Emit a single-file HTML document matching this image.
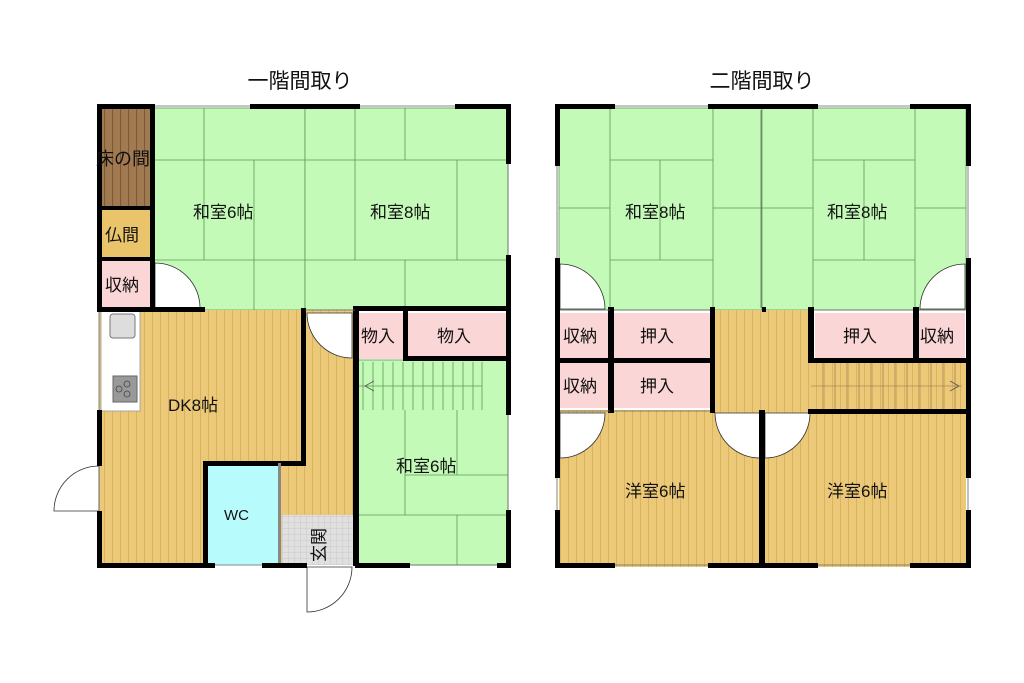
<!DOCTYPE html>
<html><head><meta charset="utf-8"><style>
html,body{margin:0;padding:0;background:#fff;}
svg{display:block;}
text{font-family:"Liberation Sans","Noto Sans CJK JP",sans-serif;fill:#111;}
</style></head><body>
<svg width="1024" height="683" viewBox="0 0 1024 683" xmlns="http://www.w3.org/2000/svg">
<defs>
<pattern id="wood" width="8" height="10" patternUnits="userSpaceOnUse"><rect width="8" height="10" fill="#ecc978"/><line x1="0.5" y1="0" x2="0.5" y2="10" stroke="#d9b35e" stroke-width="1"/></pattern>
<pattern id="brown" width="8" height="10" patternUnits="userSpaceOnUse"><rect width="8" height="10" fill="#a27a52"/><line x1="0.5" y1="0" x2="0.5" y2="10" stroke="#7d5a36" stroke-width="1.2"/></pattern>
<pattern id="tile" width="6" height="6" patternUnits="userSpaceOnUse"><rect width="6" height="6" fill="#e0e0e0"/><path d="M0 0H6M0 0V6" stroke="#c8c8c8" stroke-width="1"/></pattern>
</defs>
<text x="300" y="88" font-size="21" text-anchor="middle">一階間取り</text>
<text x="762" y="88" font-size="21" text-anchor="middle">二階間取り</text>

<!-- ===== Floor 1 ===== -->
<g stroke="#5a9a50" stroke-width="0.8">
<rect x="152" y="108" width="153" height="202" fill="#c4fab8"/>
<rect x="305" y="108" width="203" height="202" fill="#c4fab8"/>
<rect x="355" y="360" width="153" height="205" fill="#c4fab8"/>
</g>
<g stroke="#5a9a50" stroke-width="0.8" fill="none">
<path d="M204 108V160M152 160H305M204 160V260M254 160V260M152 260H305M254 260V310"/>
<path d="M355 108V160M305 160H508M355 160V260M457 160V260M305 260H508M405 260V310M405 108V160"/>
<path d="M405 410V515M405 475H508M355 515H508M457 515V565M457 410V475"/>
</g>
<!-- stairs f1 -->
<rect x="358" y="362" width="128" height="48" fill="#c4fab8"/>
<g stroke="#5a9a50" stroke-width="0.8"><path d="M358 386H482M363 362V410M373 362V410M383 362V410M393 362V410M403 362V410M413 362V410M423 362V410M433 362V410M443 362V410M453 362V410M463 362V410M473 362V410M482 362V410"/></g>
<path d="M374 381L365 386L374 391" stroke="#555" fill="none" stroke-width="0.8"/>
<rect x="99" y="108" width="53" height="100" fill="url(#brown)"/>
<rect x="99" y="210" width="53" height="48" fill="#eac46a"/>
<rect x="99" y="260" width="53" height="48" fill="#fbd6d6"/>
<rect x="99" y="310" width="206" height="255" fill="url(#wood)"/>
<rect x="303" y="310" width="52" height="205" fill="url(#wood)"/>
<rect x="282" y="515" width="73" height="50" fill="url(#tile)"/>
<rect x="205" y="463" width="75" height="102" fill="#b8fbfc"/>
<rect x="358" y="313" width="47" height="46" fill="#fbd6d6"/>
<rect x="408" y="313" width="98" height="45" fill="#fbd6d6"/>
<!-- kitchen -->
<rect x="101" y="311" width="39" height="100" fill="#fff" stroke="#999" stroke-width="0.8"/>
<rect x="110" y="314" width="25" height="24" rx="3" fill="#ddd" stroke="#777"/>
<rect x="113" y="376" width="24" height="26" fill="#999" stroke="#666"/>
<g fill="none" stroke="#444" stroke-width="0.8"><circle cx="119" cy="389" r="3"/><circle cx="127" cy="384" r="3"/><circle cx="127" cy="394" r="3"/></g>
<!-- door arcs -->
<g fill="#fff" stroke="#333" stroke-width="0.8">
<path d="M155 263 A45 45 0 0 1 200 308 H155 Z"/>
<path d="M307 313 A45 45 0 0 0 352 358 V313 Z"/>
<path d="M307 567 V612 A45 45 0 0 0 352 567 Z"/>
<path d="M99 466 A45 45 0 0 0 54 511 H99 Z" fill="#fff"/>
</g>
<!-- walls f1 -->
<g fill="#000">
<rect x="97" y="104" width="58" height="5"/><rect x="250" y="104" width="110" height="5"/><rect x="455" y="104" width="55" height="5"/>
<rect x="97" y="104" width="5" height="208"/><rect x="97" y="410" width="5" height="56"/><rect x="97" y="511" width="5" height="57"/>
<rect x="506" y="104" width="5" height="60"/><rect x="506" y="255" width="5" height="160"/><rect x="506" y="510" width="5" height="58"/>
<rect x="97" y="563" width="118" height="5"/><rect x="262" y="563" width="45" height="5"/><rect x="355" y="563" width="55" height="5"/><rect x="497" y="563" width="14" height="5"/>
<rect x="150" y="104" width="5" height="206"/>
<rect x="97" y="206" width="56" height="4"/><rect x="97" y="257" width="56" height="4"/>
<rect x="97" y="307" width="108" height="5"/>
<rect x="301" y="308" width="5" height="158"/>
<rect x="203" y="461" width="103" height="5"/>
<rect x="203" y="461" width="5" height="105"/>
<rect x="278" y="463" width="3" height="100" fill="#888"/>
<rect x="353" y="308" width="6" height="258"/>
<rect x="353" y="306" width="155" height="5"/>
<rect x="403" y="308" width="5" height="50"/>
<rect x="403" y="356" width="105" height="5"/>
</g>
<g fill="none" stroke="#666" stroke-width="0.8">
<path d="M155 106H250M360 106H455M508 164V255M508 415V510M99 312V410M99 466V511M215 565H262M410 565H497M305 310H355"/>
</g>
<g font-size="17">
<text x="96" y="165" font-size="18">床の間</text>
<text x="105" y="241">仏間</text>
<text x="105" y="291">収納</text>
<text x="193" y="218">和室6帖</text>
<text x="370" y="218">和室8帖</text>
<text x="168" y="411">DK8帖</text>
<text x="224" y="520" font-size="15">WC</text>
<text x="361" y="342">物入</text>
<text x="437" y="342">物入</text>
<text x="396" y="472">和室6帖</text>
<text x="325" y="545" font-size="17" transform="rotate(-90 325 545)" text-anchor="middle">玄関</text>
</g>

<!-- ===== Floor 2 ===== -->
<g stroke="#5a9a50" stroke-width="0.8">
<rect x="559" y="108" width="203" height="202" fill="#c4fab8"/>
<rect x="762" y="108" width="204" height="202" fill="#c4fab8"/>
</g>
<g stroke="#5a9a50" stroke-width="0.8" fill="none">
<path d="M610 108V308M559 208H610M610 160H713M660 160V260M610 260H713M713 108V308M713 208H762"/>
<path d="M813 108V308M762 208H813M813 160H915M864 160V260M813 260H915M915 108V308M915 208H966"/>
</g>
<rect x="559" y="410" width="203" height="157" fill="url(#wood)"/>
<rect x="762" y="410" width="204" height="157" fill="url(#wood)"/>
<rect x="713" y="310" width="98" height="102" fill="url(#wood)"/>
<rect x="811" y="362" width="155" height="50" fill="url(#wood)"/>
<g stroke="#8a7040" stroke-width="0.6"><path d="M811 386H962M823 362V410M835 362V410M847 362V410M859 362V410M871 362V410M883 362V410M895 362V410M907 362V410M919 362V410M931 362V410M943 362V410M955 362V410"/></g>
<path d="M950 381L959 386L950 391" stroke="#555" fill="none" stroke-width="0.8"/>
<g fill="#fbd6d6">
<rect x="560" y="313" width="49" height="45"/><rect x="614" y="313" width="96" height="45"/>
<rect x="560" y="362" width="49" height="46"/><rect x="614" y="362" width="96" height="46"/>
<rect x="815" y="313" width="98" height="45"/><rect x="919" y="313" width="46" height="45"/>
</g>
<g fill="#fff" stroke="#333" stroke-width="0.8">
<path d="M560 264 A45 45 0 0 1 605 309 H560 Z"/>
<path d="M965 264 A45 45 0 0 0 920 309 H965 Z"/>
<path d="M560 413 H605 A45 45 0 0 1 560 458 Z"/>
<path d="M715 413 H760 V458 A45 45 0 0 1 715 413 Z"/>
<path d="M765 413 H810 A45 45 0 0 1 765 458 Z"/>
</g>
<g fill="#000">
<rect x="555" y="104" width="60" height="5"/><rect x="708" y="104" width="110" height="5"/><rect x="910" y="104" width="60" height="5"/>
<rect x="555" y="104" width="5" height="62"/><rect x="555" y="258" width="5" height="110"/><rect x="555" y="360" width="5" height="5"/>
<rect x="555" y="360" width="5" height="118"/><rect x="555" y="510" width="5" height="58"/>
<rect x="966" y="104" width="5" height="62"/><rect x="966" y="258" width="5" height="220"/><rect x="966" y="510" width="5" height="58"/>
<rect x="555" y="563" width="60" height="5"/><rect x="708" y="563" width="110" height="5"/><rect x="910" y="563" width="61" height="5"/>
<rect x="608" y="307" width="6" height="106"/>
<rect x="555" y="358" width="160" height="5"/>
<rect x="710" y="307" width="5" height="106"/>
<rect x="759" y="410" width="6" height="158"/>
<rect x="808" y="307" width="6" height="55"/>
<rect x="808" y="358" width="163" height="5"/>
<rect x="913" y="307" width="6" height="53"/>
<rect x="808" y="409" width="163" height="5"/>
<rect x="762" y="307" width="4" height="5"/>
</g>
<g fill="none" stroke="#666" stroke-width="0.8">
<path d="M615 106H708M818 106H910M557 166V258M968 166V258M557 478V510M968 478V510M615 565H708M818 565H910M761 110V308M560 310H610M614 310H710M815 310H913M919 310H965M560 411H610M614 411H710"/>
</g>
<g font-size="17">
<text x="625" y="218">和室8帖</text>
<text x="827" y="218">和室8帖</text>
<text x="563" y="342">収納</text>
<text x="640" y="342">押入</text>
<text x="843" y="342">押入</text>
<text x="920" y="342">収納</text>
<text x="563" y="392">収納</text>
<text x="640" y="392">押入</text>
<text x="625" y="497">洋室6帖</text>
<text x="827" y="497">洋室6帖</text>
</g>
</svg>
</body></html>
